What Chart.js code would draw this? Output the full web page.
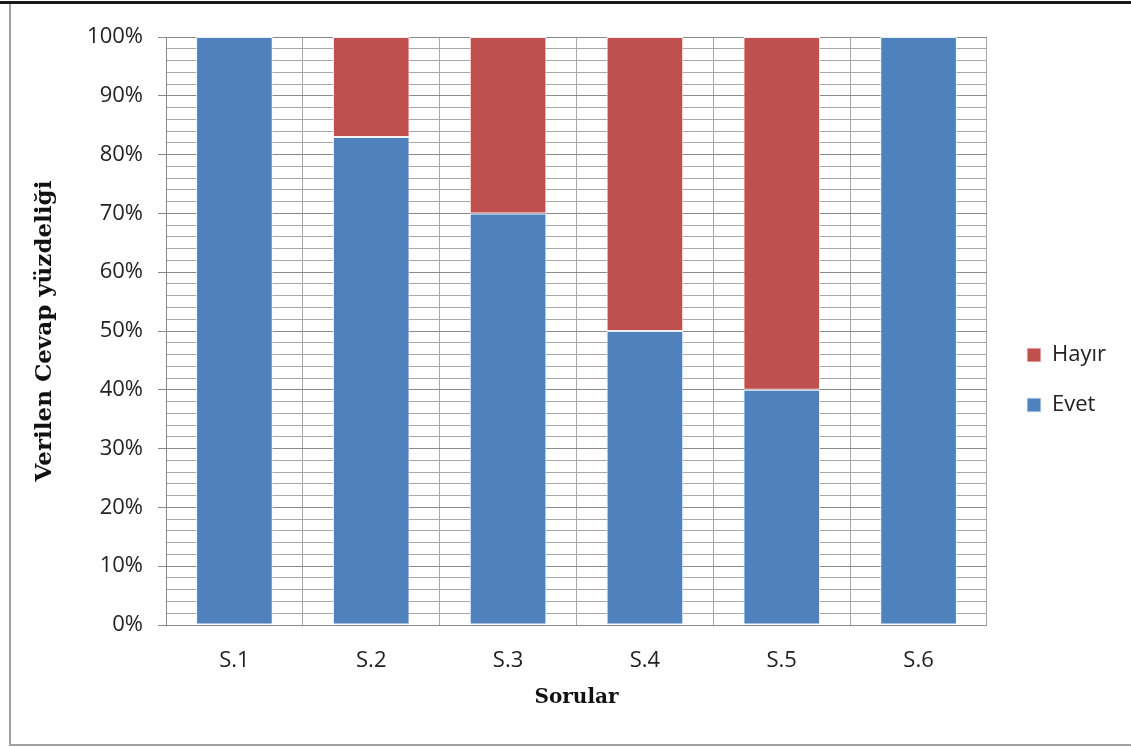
<!DOCTYPE html>
<html>
<head>
<meta charset="utf-8">
<script src="https://cdn.jsdelivr.net/npm/chart.js@4/dist/chart.umd.min.js"></script>
<style>
  html, body { margin: 0; padding: 0; background: #ffffff; }
  #wrap { width: 1131px; height: 747px; position: relative; }
</style>
</head>
<body>
<div id="wrap"><canvas id="c" width="1131" height="747"></canvas></div>
<script>
// Questions on the x axis
const categories = ['S.1', 'S.2', 'S.3', 'S.4', 'S.5', 'S.6'];
// Share of answers per question (percent)
const evetValues = [100, 83, 70, 50, 40, 100];
const hayirValues = [0, 17, 30, 50, 60, 0];
// Labelled y ticks (every 10%); minor grid lines every 2%
const majorStep = 10;
const minorStep = 2;
const yMax = 100;

const AXIS_GREY = '#8a8a8a';
const GRID_GREY = '#a8a8a8';
const TICK_FONT = { family: '"Open Sans", sans-serif', size: 22 };
const X_TITLE_FONT = { family: '"DejaVu Serif", serif', size: 20, weight: 'bold' };
const Y_TITLE_FONT = { family: '"DejaVu Serif", serif', size: 23, weight: 'bold' };

// Outer frame around the figure
const framePlugin = {
  id: 'frame',
  afterDraw(chart) {
    const ctx = chart.ctx;
    ctx.save();
    ctx.strokeStyle = '#1a1a1a';
    ctx.lineWidth = 3;
    ctx.beginPath();
    ctx.moveTo(0, 2.5);
    ctx.lineTo(chart.width, 2.5);
    ctx.stroke();
    ctx.strokeStyle = '#a0a0a0';
    ctx.lineWidth = 2;
    ctx.beginPath();
    ctx.moveTo(10, 4);
    ctx.lineTo(10, chart.height - 2);
    ctx.lineTo(chart.width, chart.height - 2);
    ctx.stroke();
    ctx.restore();
  }
};

// Keeps the legend a little away from the plot edge
const legendOffset = { x: 12, y: -12 };
const legendShiftPlugin = {
  id: 'legendShift',
  beforeDraw(chart) {
    const lg = chart.legend;
    if (!lg || lg._shifted) return;
    lg.left += legendOffset.x; lg.right += legendOffset.x;
    lg.top += legendOffset.y; lg.bottom += legendOffset.y;
    lg._shifted = true;
  },
  afterUpdate(chart) {
    if (chart.legend) chart.legend._shifted = false;
  }
};

new Chart(document.getElementById('c'), {
  type: 'bar',
  data: {
    labels: categories,
    datasets: [
      {
        label: 'Evet',
        data: evetValues,
        backgroundColor: '#4f81bd',
        borderColor: 'rgba(235,244,255,0.95)',
        borderWidth: 1,
        borderSkipped: false
      },
      {
        label: 'Hayır',
        data: hayirValues,
        backgroundColor: '#c0504d',
        borderColor: 'rgba(255,240,240,0.95)',
        borderWidth: 1,
        borderSkipped: false
      }
    ]
  },
  options: {
    responsive: false,
    animation: false,
    devicePixelRatio: 1,
    datasets: { bar: { barPercentage: 0.56, categoryPercentage: 1.0 } },
    layout: { padding: { top: 37, right: 27, bottom: 0, left: 0 } },
    plugins: {
      tooltip: { enabled: false },
      legend: {
        position: 'right',
        reverse: true,
        labels: {
          boxWidth: 14,
          boxHeight: 14,
          padding: 28,
          color: '#222222',
          font: TICK_FONT
        }
      }
    },
    scales: {
      x: {
        stacked: true,
        grid: { offset: true, color: GRID_GREY, drawTicks: false, lineWidth: 1 },
        border: { color: AXIS_GREY, width: 1 },
        ticks: { color: '#222222', font: TICK_FONT, padding: 23 },
        title: {
          display: true,
          text: 'Sorular',
          color: '#111111',
          font: X_TITLE_FONT,
          padding: { top: 0, bottom: 37 }
        },
        afterFit(scale) { scale.height = 122; }
      },
      y: {
        stacked: true,
        min: 0,
        max: yMax,
        grid: {
          color: (c) => (c.tick && c.tick.value % majorStep === 0) ? AXIS_GREY : GRID_GREY,
          tickColor: (c) => (c.tick && c.tick.value % majorStep === 0) ? AXIS_GREY : 'rgba(0,0,0,0)',
          tickLength: 8,
          lineWidth: 1
        },
        border: { color: AXIS_GREY, width: 1 },
        ticks: {
          stepSize: minorStep,
          maxTicksLimit: 60,
          autoSkip: false,
          color: '#222222',
          font: TICK_FONT,
          padding: 15,
          callback: (v) => (v % majorStep === 0) ? v + '%' : ''
        },
        title: {
          display: true,
          text: 'Verilen Cevap yüzdeliği',
          color: '#111111',
          font: Y_TITLE_FONT,
          padding: { top: 31, bottom: 0 }
        },
        afterFit(scale) { scale.width = 166; }
      }
    }
  },
  plugins: [framePlugin, legendShiftPlugin]
});
</script>
</body>
</html>
